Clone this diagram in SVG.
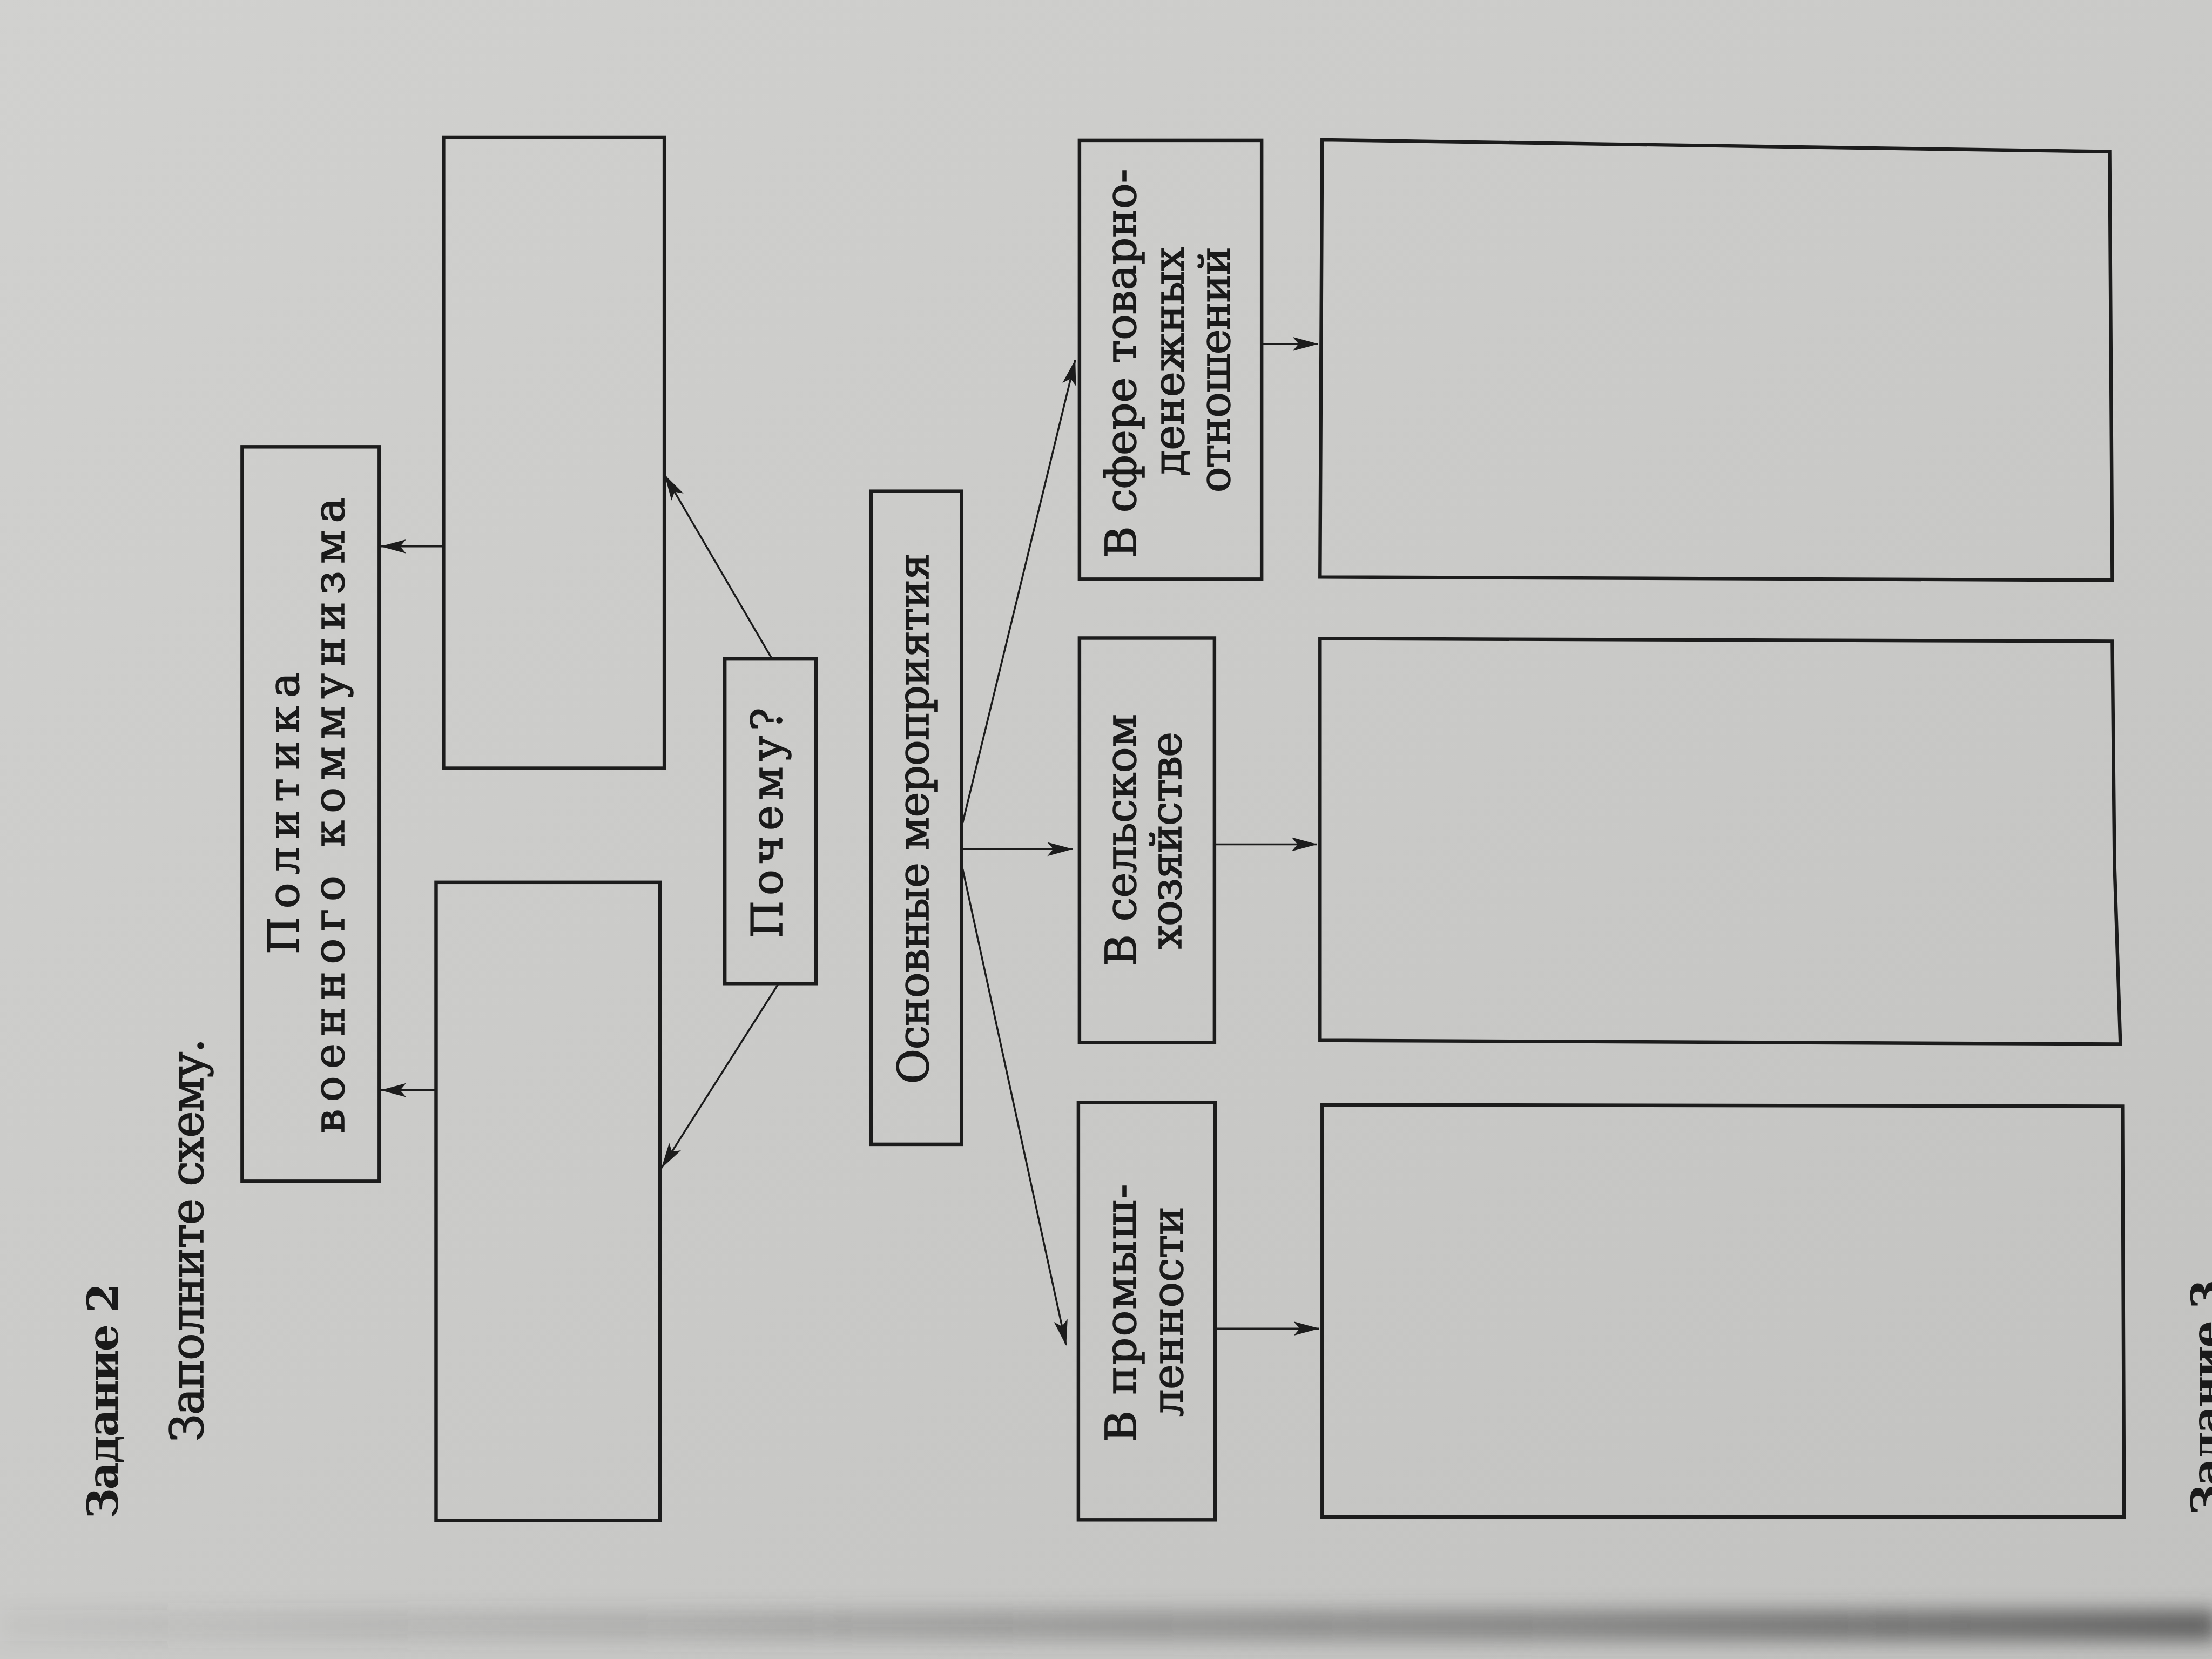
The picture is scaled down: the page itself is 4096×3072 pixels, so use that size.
<svg xmlns="http://www.w3.org/2000/svg" width="4096" height="3072" viewBox="0 0 4096 3072">
<defs>
<linearGradient id="bg" x1="0" y1="0" x2="1" y2="1">
<stop offset="0" stop-color="#d1d1cf"/>
<stop offset="0.5" stop-color="#cacac8"/>
<stop offset="1" stop-color="#c2c2c0"/>
</linearGradient>
<linearGradient id="sh" x1="0" y1="0" x2="1" y2="0">
<stop offset="0" stop-color="#4a4a4a" stop-opacity="0.05"/>
<stop offset="0.3" stop-color="#4a4a4a" stop-opacity="0.2"/>
<stop offset="0.7" stop-color="#4a4a4a" stop-opacity="0.5"/>
<stop offset="1" stop-color="#404040" stop-opacity="0.75"/>
</linearGradient>
<filter id="blur" x="-10%" y="-200%" width="120%" height="500%"><feGaussianBlur stdDeviation="18"/></filter>
<marker id="ah" markerUnits="userSpaceOnUse" viewBox="0 0 48 30" markerWidth="48" markerHeight="30" refX="47" refY="15" orient="auto">
<path d="M48,15 L0,2 L11,15 L0,28 Z" fill="#1c1c1c"/>
</marker>
<style>
.box{fill:none;stroke:#1c1c1c;stroke-width:6.5;stroke-linejoin:miter}
.con{fill:none;stroke:#1c1c1c;stroke-width:3.5;marker-end:url(#ah)}
.t{font-family:"DejaVu Serif","Liberation Serif",serif;font-size:80px;fill:#1a1a1a;stroke:#1a1a1a;stroke-width:1.6;text-anchor:middle}
.h{font-family:"DejaVu Serif","Liberation Serif",serif;font-size:80px;font-weight:bold;fill:#1a1a1a}
.p{font-family:"DejaVu Serif","Liberation Serif",serif;font-size:84px;fill:#1a1a1a;stroke:#1a1a1a;stroke-width:1.6;text-anchor:middle}
</style>
</defs>
<rect x="0" y="0" width="4096" height="3072" fill="url(#bg)"/>
<g transform="scale(0.992)">
<rect x="0" y="3005" width="4140" height="58" fill="url(#sh)" filter="url(#blur)"/>

<g id="header">
<text class="h" text-anchor="middle" textLength="440" transform="translate(220,2615) rotate(-90)">Задание 2</text>
<text class="p" textLength="753" transform="translate(379,2315) rotate(-90)">Заполните схему.</text>
<text class="h" text-anchor="start" textLength="440" transform="translate(4147,2828) rotate(-90)">Задание 3</text>
</g>

<g id="node-politika">
<rect class="box" x="452" y="834" width="256" height="1371"/>
<text class="t" textLength="526" transform="translate(557,1518) rotate(-90)">Политика</text>
<text class="t" textLength="1187" transform="translate(642,1522) rotate(-90)">военного коммунизма</text>
</g>

<g id="node-answer-upper">
<rect class="box" x="828" y="256" width="412" height="1178"/>
</g>
<g id="node-answer-lower">
<rect class="box" x="814" y="1647" width="418" height="1191"/>
</g>

<g id="node-pochemu">
<rect class="box" x="1353" y="1230" width="170" height="606"/>
<text class="t" textLength="430" transform="translate(1460,1536) rotate(-90)">Почему?</text>
</g>

<g id="node-osnovnye">
<rect class="box" x="1626" y="917" width="169" height="1219"/>
<text class="t" textLength="991" transform="translate(1733,1528) rotate(-90)">Основные мероприятия</text>
</g>

<g id="node-sfera">
<rect class="box" x="2015" y="262" width="340" height="819"/>
<text class="t" textLength="726" transform="translate(2120,678) rotate(-90)">В сфере товарно-</text>
<text class="t" textLength="428" transform="translate(2210,675) rotate(-90)">денежных</text>
<text class="t" textLength="459" transform="translate(2295,690) rotate(-90)">отношений</text>
</g>

<g id="node-selskoe">
<rect class="box" x="2015" y="1191" width="252" height="755"/>
<text class="t" textLength="470" transform="translate(2120,1568) rotate(-90)">В сельском</text>
<text class="t" textLength="406" transform="translate(2205,1569) rotate(-90)">хозяйстве</text>
</g>

<g id="node-prom">
<rect class="box" x="2013" y="2058" width="255" height="779"/>
<text class="t" textLength="482" transform="translate(2120,2451) rotate(-90)">В промыш-</text>
<text class="t" textLength="392" transform="translate(2208,2448) rotate(-90)">ленности</text>
</g>

<g id="node-big-top">
<polygon class="box" points="2468,261 3938,283 3943,1083 2464,1077"/>
</g>
<g id="node-big-mid">
<polygon class="box" points="2464,1192 3943,1197 3947,1610 3958,1949 2464,1942"/>
</g>
<g id="node-big-bottom">
<polygon class="box" points="2468,2062 3962,2065 3965,2832 2468,2832"/>
</g>

<g id="connectors">
<line class="con" x1="828" y1="1020" x2="711" y2="1020"/>
<line class="con" x1="814" y1="2035" x2="711" y2="2035"/>
<line class="con" x1="1440" y1="1228" x2="1241" y2="887"/>
<line class="con" x1="1452" y1="1838" x2="1235" y2="2180"/>
<line class="con" x1="1797" y1="1536" x2="2007" y2="672"/>
<line class="con" x1="1797" y1="1585" x2="2002" y2="1585"/>
<line class="con" x1="1797" y1="1622" x2="1990" y2="2511"/>
<line class="con" x1="2355" y1="642" x2="2460" y2="642"/>
<line class="con" x1="2267" y1="1576" x2="2458" y2="1576"/>
<line class="con" x1="2268" y1="2480" x2="2462" y2="2480"/>
</g>
</g>
</svg>
